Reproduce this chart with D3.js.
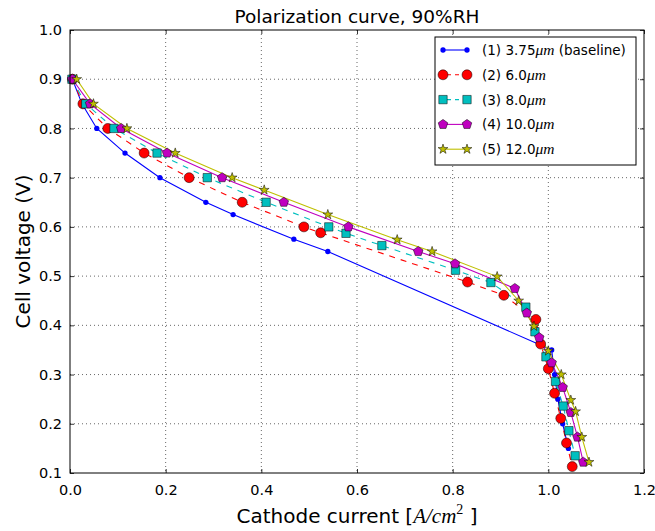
<!DOCTYPE html>
<html>
<head>
<meta charset="utf-8">
<script src="https://cdn.jsdelivr.net/npm/d3@7"></script>
<style>
  body { margin: 0; background: #fff; }
  text { font-family: "DejaVu Sans", sans-serif; }
</style>
</head>
<body>
<script>
// series data
var labels = ["(1) 3.75", "(2) 6.0", "(3) 8.0", "(4) 10.0", "(5) 12.0"];
var x1 = [0.005, 0.025, 0.056, 0.115, 0.188, 0.284, 0.341, 0.468, 0.539, 1.007, 1.013, 1.02, 1.03, 1.042];
var y1 = [0.9, 0.85, 0.8, 0.75, 0.7, 0.65, 0.625, 0.575, 0.55, 0.35, 0.3, 0.25, 0.2, 0.15];
var x2 = [0.005, 0.027, 0.079, 0.155, 0.249, 0.36, 0.489, 0.524, 0.831, 0.907, 0.974, 0.984, 1.0, 1.013, 1.026, 1.038, 1.05];
var y2 = [0.9, 0.85, 0.8, 0.75, 0.7, 0.65, 0.6, 0.588, 0.488, 0.461, 0.412, 0.362, 0.312, 0.262, 0.211, 0.161, 0.113];
var x3 = [0.004, 0.033, 0.092, 0.182, 0.287, 0.41, 0.541, 0.577, 0.652, 0.806, 0.88, 0.953, 0.972, 0.995, 1.015, 1.031, 1.043, 1.056];
var y3 = [0.9, 0.85, 0.8, 0.75, 0.7, 0.65, 0.6, 0.587, 0.562, 0.512, 0.487, 0.437, 0.387, 0.336, 0.286, 0.236, 0.186, 0.135];
var x4 = [0.005, 0.042, 0.107, 0.203, 0.318, 0.447, 0.582, 0.728, 0.805, 0.93, 0.955, 0.981, 1.007, 1.03, 1.047, 1.061, 1.073];
var y4 = [0.9, 0.85, 0.8, 0.75, 0.7, 0.65, 0.6, 0.55, 0.525, 0.475, 0.425, 0.375, 0.324, 0.274, 0.223, 0.173, 0.122];
var x5 = [0.014, 0.049, 0.119, 0.22, 0.339, 0.406, 0.539, 0.684, 0.757, 0.893, 0.938, 0.97, 1.0, 1.027, 1.047, 1.057, 1.07, 1.085];
var y5 = [0.9, 0.85, 0.8, 0.75, 0.7, 0.675, 0.625, 0.574, 0.55, 0.499, 0.45, 0.398, 0.348, 0.3, 0.248, 0.225, 0.173, 0.122];
var xTicks = [0, 0.2, 0.4, 0.6, 0.8, 1.0, 1.2];
var yTicks = [0.1, 0.2, 0.3, 0.4, 0.5, 0.6, 0.7, 0.8, 0.9, 1.0];

var outerWidth = 655, outerHeight = 531;
var margin = { top: 30, right: 11, bottom: 58, left: 70 };
var width = outerWidth - margin.left - margin.right;
var height = outerHeight - margin.top - margin.bottom;

var svg = d3.select("body").append("svg")
  .attr("width", outerWidth)
  .attr("height", outerHeight);

var g = svg.append("g")
  .attr("transform", "translate(" + margin.left + "," + margin.top + ")");

var xScale = d3.scaleLinear().domain([0, 1.2]).range([0, width]);
var yScale = d3.scaleLinear().domain([0.1, 1.0]).range([height, 0]);

// grid
g.selectAll(".gx").data(xTicks.slice(1, -1)).enter().append("line")
  .attr("x1", d => xScale(d)).attr("x2", d => xScale(d))
  .attr("y1", 0).attr("y2", height)
  .attr("stroke", "#000").attr("stroke-width", 0.6).attr("stroke-dasharray", "1,3");
g.selectAll(".gy").data(yTicks.slice(1, -1)).enter().append("line")
  .attr("y1", d => yScale(d)).attr("y2", d => yScale(d))
  .attr("x1", 0).attr("x2", width)
  .attr("stroke", "#000").attr("stroke-width", 0.6).attr("stroke-dasharray", "1,3");

// axes with inward ticks on all sides
var fmt = d3.format(".1f");
var axB = g.append("g").attr("transform", "translate(0," + height + ")")
  .call(d3.axisBottom(xScale).tickValues(xTicks).tickFormat(fmt).tickSizeInner(-4).tickSizeOuter(0).tickPadding(10));
var axT = g.append("g")
  .call(d3.axisTop(xScale).tickValues(xTicks).tickFormat("").tickSizeInner(-4).tickSizeOuter(0));
var axL = g.append("g")
  .call(d3.axisLeft(yScale).tickValues(yTicks).tickFormat(fmt).tickSizeInner(-4).tickSizeOuter(0).tickPadding(8));
var axR = g.append("g").attr("transform", "translate(" + width + ",0)")
  .call(d3.axisRight(yScale).tickValues(yTicks).tickFormat("").tickSizeInner(-4).tickSizeOuter(0));
[axB, axT, axL, axR].forEach(function (a) {
  a.select(".domain").remove();
  a.selectAll("line").attr("stroke", "#000").attr("stroke-width", 0.8);
  a.selectAll("text").attr("font-size", 14.5).attr("fill", "#000")
    .attr("font-family", "DejaVu Sans, sans-serif");
});
axB.selectAll("text").attr("dy", "0.85em");

// series
var series = [
  { x: x1, y: y1, color: "#0000ff", dash: null, marker: "dot" },
  { x: x2, y: y2, color: "#ff0000", dash: "6,6", marker: "circle" },
  { x: x3, y: y3, color: "#00bfbf", dash: "6,6", marker: "square" },
  { x: x4, y: y4, color: "#bf00bf", dash: null, marker: "pentagon" },
  { x: x5, y: y5, color: "#bfbf00", dash: null, marker: "star" }
];
series.forEach(function (s) {
  s.points = s.x.map((v, i) => ({ x: v, y: s.y[i] }));
});

var pentagon = {
  draw: function (ctx, size) {
    var r = Math.sqrt(size / 2.378);
    for (var i = 0; i < 5; i++) {
      var a = -Math.PI / 2 + i * 2 * Math.PI / 5;
      if (i === 0) ctx.moveTo(r * Math.cos(a), r * Math.sin(a));
      else ctx.lineTo(r * Math.cos(a), r * Math.sin(a));
    }
    ctx.closePath();
  }
};
function markerPath(m) {
  if (m === "dot") return d3.symbol(d3.symbolCircle, 22)();
  if (m === "circle") return d3.symbol(d3.symbolCircle, 78)();
  if (m === "square") return d3.symbol(d3.symbolSquare, 70)();
  if (m === "pentagon") return d3.symbol(pentagon, 60)();
  return d3.symbol(d3.symbolStar, 30)();
}

var line = d3.line().x(d => xScale(d.x)).y(d => yScale(d.y));

var plot = g.append("g");
series.forEach(function (s) {
  plot.append("path")
    .attr("d", line(s.points))
    .attr("fill", "none")
    .attr("stroke", s.color)
    .attr("stroke-width", 1.1)
    .attr("stroke-dasharray", s.dash);
});
series.forEach(function (s) {
  plot.selectAll(null).data(s.points).enter().append("path")
    .attr("transform", d => "translate(" + xScale(d.x) + "," + yScale(d.y) + ")")
    .attr("d", markerPath(s.marker))
    .attr("fill", s.color)
    .attr("stroke", s.marker === "dot" ? "none" : "#000")
    .attr("stroke-width", 0.5);
});

// frame
g.append("rect").attr("width", width).attr("height", height)
  .attr("fill", "none").attr("stroke", "#000").attr("stroke-width", 1);

// legend
var legend = svg.append("g").attr("transform", "translate(435,37)");
legend.append("rect").attr("width", 201).attr("height", 128)
  .attr("fill", "#fff").attr("stroke", "#000").attr("stroke-width", 1);
series.forEach(function (s, i) {
  var yy = 13 + i * 24.8;
  var row = legend.append("g").attr("transform", "translate(0," + yy + ")");
  row.append("line").attr("x1", 8).attr("x2", 32).attr("y1", 0).attr("y2", 0)
    .attr("stroke", s.color).attr("stroke-width", 1.1)
    .attr("stroke-dasharray", s.dash ? "4,4" : null)
    .attr("stroke-dashoffset", s.dash ? -4 : null);
  [8, 32].forEach(function (mx) {
    row.append("path").attr("transform", "translate(" + mx + ",0)")
      .attr("d", markerPath(s.marker))
      .attr("fill", s.color)
      .attr("stroke", s.marker === "dot" ? "none" : "#000")
      .attr("stroke-width", 0.5);
  });
  var t = row.append("text").attr("x", 47).attr("y", 5).attr("font-size", 13.5);
  t.append("tspan").text(labels[i]);
  t.append("tspan").text("\u03bcm").attr("font-family", "Liberation Serif, serif")
    .attr("font-style", "italic").attr("font-size", 15.5);
  if (i === 0) t.append("tspan").text(" (baseline)");
});

// title and axis labels
svg.append("text").attr("x", margin.left + width / 2).attr("y", 23)
  .attr("text-anchor", "middle").attr("font-size", 18.5).text("Polarization curve, 90%RH");

var xl = svg.append("text").attr("x", margin.left + width / 2).attr("y", 523)
  .attr("text-anchor", "middle").attr("font-size", 20);
xl.append("tspan").text("Cathode current [");
xl.append("tspan").text("A/cm").attr("font-family", "Liberation Serif, serif").attr("font-style", "italic").attr("font-size", 21);
xl.append("tspan").text("2").attr("font-family", "Liberation Serif, serif").attr("font-size", 14).attr("dy", -9);
xl.append("tspan").text(" ]").attr("dy", 9);

svg.append("text")
  .attr("transform", "translate(30," + (margin.top + height / 2) + ") rotate(-90)")
  .attr("text-anchor", "middle").attr("font-size", 20).text("Cell voltage (V)");
</script>
</body>
</html>
